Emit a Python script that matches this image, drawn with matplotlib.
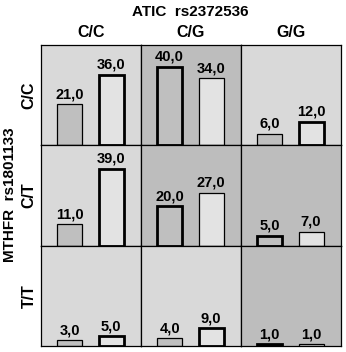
import matplotlib.pyplot as plt
import numpy as np

plt.rcParams['font.family'] = ['Liberation Sans', 'DejaVu Sans']

# ATIC rs2372536 genotypes (columns) x MTHFR rs1801133 genotypes (rows)
col_labels = ['C/C', 'C/G', 'G/G']
row_labels = ['C/C', 'C/T', 'T/T']

# two bars per panel: [first group, second group]
values = [
    [[21, 36], [40, 34], [6, 12]],
    [[11, 39], [20, 27], [5, 7]],
    [[3, 5], [4, 9], [1, 1]],
]

# panels drawn with the dark background
dark_panel = [
    [False, True, False],
    [False, True, True],
    [False, False, True],
]

light_bg = '#d9d9d9'
dark_bg = '#bdbdbd'
bar_colors = ['#bfbfbf', '#e3e3e3']

fig = plt.figure(figsize=(3.46, 3.52), dpi=100)
fig.subplots_adjust(left=41/346, right=341/346, top=1-45/352, bottom=1-346/352,
                    wspace=0, hspace=0)
axes = fig.subplots(3, 3)

for i in range(3):
    for j in range(3):
        ax = axes[i, j]
        dark = dark_panel[i][j]
        ax.set_facecolor(dark_bg if dark else light_bg)
        thick = 0 if dark else 1
        for k, v in enumerate(values[i][j]):
            lw = 2.0 if k == thick else 0.9
            ax.bar(k, v, width=0.6, color=bar_colors[k], edgecolor='black',
                   linewidth=lw, zorder=2)
            ax.text(k, v + 1.5, f'{v:.1f}'.replace('.', ','), ha='center', va='bottom',
                    fontsize=10.5, fontweight='bold')
        ax.set_xlim(-0.69, 1.72)
        ax.set_ylim(0, 51)
        ax.set_xticks([])
        ax.set_yticks([])
        for s in ax.spines.values():
            s.set_linewidth(0.9)
        if i == 0:
            ax.set_title(col_labels[j], fontsize=11.5, fontweight='bold', pad=6)
        if j == 0:
            ax.set_ylabel(row_labels[i], fontsize=11.5, fontweight='bold', labelpad=3)

fig.text(190/346, 1 - 12/352, 'ATIC  rs2372536', ha='center', va='center',
         fontsize=11, fontweight='bold')
fig.text(10/346, 1 - 195/352, 'MTHFR  rs1801133', ha='center', va='center',
         rotation=90, fontsize=11, fontweight='bold')

plt.savefig('out.png', dpi=100)
